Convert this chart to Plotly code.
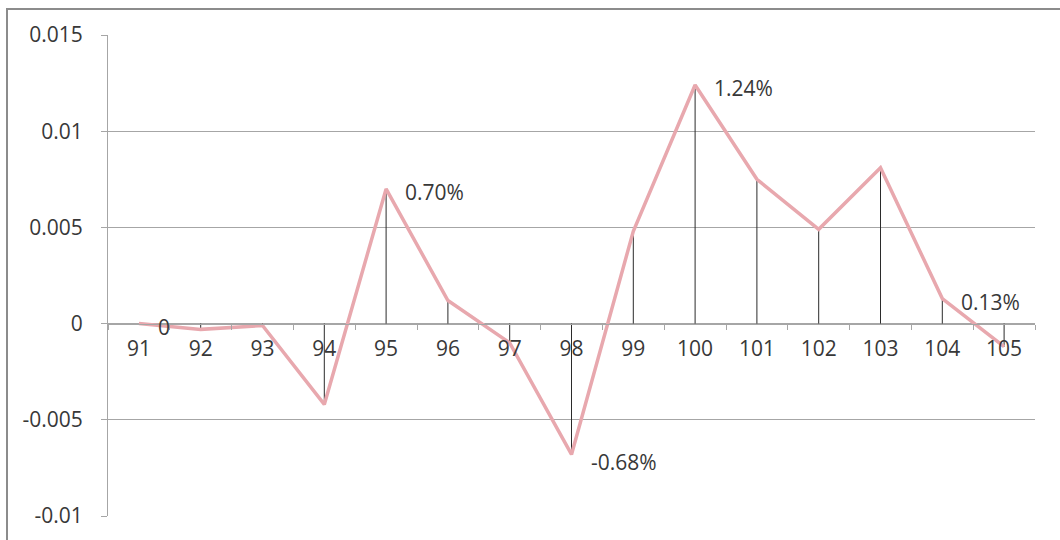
import plotly.graph_objects as go

# Period index on the category axis
periods = ["91", "92", "93", "94", "95", "96", "97", "98", "99",
           "100", "101", "102", "103", "104", "105"]

# Period-over-period change (fraction)
changes = [0.0, -0.0003, -0.0001, -0.0042, 0.0070, 0.0012, -0.0010, -0.0068,
           0.0048, 0.0124, 0.0075, 0.0049, 0.0081, 0.0013, -0.0012]

# Periods whose value is printed next to the point
labelled = ["91", "95", "98", "100", "104"]

y_ticks = [0.015, 0.01, 0.005, 0, -0.005, -0.01]
y_tick_text = ["0.015", "0.01", "0.005", "0", "-0.005", "-0.01"]

W, H = 1060, 540
ML, MR, MT, MB = 108, 25, 35, 24
PW, PH = W - ML - MR, H - MT - MB

FONT = "Open Sans"
FS = 21
TXT = "#383838"
GRID = "#A6A6A6"

fig = go.Figure()

# drop lines from every point to the zero line
dx, dy = [], []
for p, v in zip(periods, changes):
    dx += [p, p, None]
    dy += [0, v, None]
fig.add_trace(go.Scatter(x=dx, y=dy, mode="lines",
                         line=dict(color="#2b2b2b", width=1),
                         hoverinfo="skip", showlegend=False))

fig.add_trace(go.Scatter(x=periods, y=changes, mode="lines",
                         line=dict(color="#E8A8AE", width=3.5),
                         showlegend=False))


def fmt(v):
    return "0" if v == 0 else f"{v * 100:.2f}%"


# value labels to the right of selected points (x given as category index)
for i, (p, v) in enumerate(zip(periods, changes)):
    if p in labelled:
        fig.add_annotation(x=i, y=v, xref="x", yref="y", text=fmt(v),
                           showarrow=False, xanchor="left", yanchor="middle",
                           xshift=17, yshift=-3 if v >= 0 else -8,
                           font=dict(family=FONT, size=FS, color=TXT))


def px_x(x):
    return (x - ML) / PW


def px_y(y):
    return (H - MB - y) / PH


# outer chart frame
fig.add_shape(type="rect", xref="paper", yref="paper",
              x0=px_x(7), x1=px_x(1062), y0=px_y(548), y1=px_y(9),
              line=dict(color="#8c8c8c", width=2), fillcolor="rgba(0,0,0,0)",
              layer="below")

fig.update_layout(
    width=W, height=H,
    margin=dict(l=ML, r=MR, t=MT, b=MB),
    paper_bgcolor="white", plot_bgcolor="white",
    font=dict(family=FONT, size=FS, color=TXT),
    xaxis=dict(
        type="category", range=[-0.5, len(periods) - 0.5],
        anchor="free", position=(0 - y_ticks[-1]) / (y_ticks[0] - y_ticks[-1]),
        showline=True, linecolor=GRID, linewidth=1,
        showgrid=False, zeroline=False,
        ticks="outside", ticklen=5, tickcolor=GRID, tickson="boundaries",
        tickfont=dict(family=FONT, size=FS, color=TXT),
        ticklabelstandoff=6,
    ),
    yaxis=dict(
        range=[y_ticks[-1], y_ticks[0]],
        tickvals=y_ticks, ticktext=y_tick_text,
        showgrid=True, gridcolor=GRID, gridwidth=1,
        zeroline=False,
        showline=True, linecolor=GRID, linewidth=1,
        ticks="outside", ticklen=6, tickcolor=GRID,
        tickfont=dict(family=FONT, size=FS, color=TXT),
        ticklabelstandoff=14,
    ),
)

fig.write_html("out.html")
